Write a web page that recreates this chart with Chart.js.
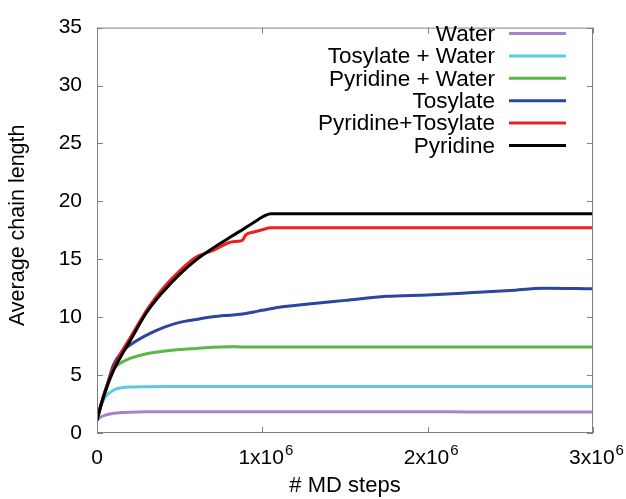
<!DOCTYPE html>
<html lang="en">
<head>
  <meta charset="UTF-8">
  <title>Average chain length vs MD steps</title>
  <script src="https://cdn.jsdelivr.net/npm/chart.js"></script>
  <style>
    html, body { margin: 0; padding: 0; background: #fff; }
    #wrap { width: 626px; height: 499px; position: relative; }
  </style>
</head>
<body>
<div id="wrap"><canvas id="chart"></canvas></div>

<script>
  // sampled MD steps shared by every run
  const steps = [0, 2e4, 5e4, 1e5, 1.5e5, 2e5, 3e5, 4e5, 5e5, 6e5, 7e5, 8e5, 8.5e5, 8.8e5, 9e5,
                 9.5e5, 1e6, 1.05e6, 1.1e6, 1.25e6, 1.5e6, 1.75e6, 2e6, 2.25e6, 2.5e6, 2.7e6, 3e6];

  const water        = [1.1, 1.35, 1.55, 1.7, 1.77, 1.8, 1.83, 1.84, 1.84, 1.84, 1.84, 1.84, 1.84, 1.84, 1.84,
                        1.84, 1.84, 1.84, 1.84, 1.84, 1.83, 1.83, 1.83, 1.82, 1.82, 1.82, 1.82];
  const tosWater     = [1.1, 2.2, 3.1, 3.7, 3.9, 3.97, 4.0, 4.01, 4.01, 4.01, 4.01, 4.01, 4.01, 4.01, 4.01,
                        4.01, 4.01, 4.01, 4.01, 4.01, 4.01, 4.01, 4.01, 4.01, 4.01, 4.01, 4.01];
  const pyrWater     = [1.1, 2.15, 3.5, 5.5, 6.1, 6.45, 6.85, 7.05, 7.2, 7.3, 7.4, 7.44, 7.44, 7.43, 7.43,
                        7.43, 7.43, 7.43, 7.43, 7.43, 7.43, 7.43, 7.43, 7.43, 7.43, 7.43, 7.43];
  const tosylate     = [1.1, 2.2, 3.6, 5.9, 7.0, 7.6, 8.45, 9.1, 9.55, 9.8, 10.03, 10.17, 10.23, 10.28, 10.32,
                        10.45, 10.6, 10.72, 10.85, 11.1, 11.45, 11.8, 11.92, 12.1, 12.3, 12.5, 12.45];
  const pyrTosylate  = [1.1, 2.3, 3.7, 5.6, 7.05, 8.2, 10.6, 12.5, 14.0, 15.19, 15.75, 16.45, 16.55, 16.65, 17.1,
                        17.35, 17.55, 17.72, 17.72, 17.72, 17.72, 17.72, 17.72, 17.72, 17.72, 17.72, 17.72];
  const pyridine     = [1.1, 2.2, 3.6, 5.4, 6.75, 7.95, 10.4, 12.2, 13.7, 14.95, 15.95, 16.85, 17.3, 17.55, 17.75,
                        18.2, 18.65, 18.93, 18.93, 18.93, 18.93, 18.93, 18.93, 18.93, 18.93, 18.93, 18.93];

  const seriesNames  = ['Water', 'Tosylate + Water', 'Pyridine + Water', 'Tosylate', 'Pyridine+Tosylate', 'Pyridine'];
  const seriesData   = [water, tosWater, pyrWater, tosylate, pyrTosylate, pyridine];
  const seriesColors = ['#a484c8', '#5ccbe0', '#5db646', '#2c45a2', '#ec2020', '#000000'];

  const xTicks      = [0, 1e6, 2e6, 3e6];
  const xTickLabels = [['0', ''], ['1x10', '6'], ['2x10', '6'], ['3x10', '6']];
  const yTitle      = 'Average chain length';

  const FONT = '"Liberation Sans", Arial, sans-serif';

  // gnuplot-like frame: border, inward ticks mirrored on all sides, x labels with exponents, legend
  const gnuplotFrame = {
    id: 'gnuplotFrame',
    afterDraw(chart) {
      const ctx = chart.ctx;
      const a = chart.chartArea;
      const xs = chart.scales.x, ys = chart.scales.y;
      const tick = 6;

      ctx.save();
      ctx.strokeStyle = '#808080';
      ctx.lineWidth = 1;
      ctx.strokeRect(a.left + 0.5, a.top + 0.5, a.right - a.left - 1, a.bottom - a.top - 1);

      ctx.beginPath();
      ys.ticks.forEach(t => {
        const y = Math.round(ys.getPixelForValue(t.value)) + 0.5;
        ctx.moveTo(a.left, y); ctx.lineTo(a.left + tick, y);
        ctx.moveTo(a.right, y); ctx.lineTo(a.right - tick, y);
      });
      xTicks.forEach(v => {
        const x = Math.round(xs.getPixelForValue(v)) + 0.5;
        ctx.moveTo(x, a.bottom); ctx.lineTo(x, a.bottom - tick);
        ctx.moveTo(x, a.top); ctx.lineTo(x, a.top + tick);
      });
      ctx.stroke();

      // x tick labels with superscript exponent
      ctx.fillStyle = '#000';
      ctx.textBaseline = 'alphabetic';
      ctx.textAlign = 'left';
      xTicks.forEach((v, i) => {
        const [base, sup] = xTickLabels[i];
        ctx.font = '21px ' + FONT;
        const wb = ctx.measureText(base).width;
        ctx.font = '15px ' + FONT;
        const ws = sup ? ctx.measureText(sup).width : 0;
        const x0 = xs.getPixelForValue(v) - (wb + ws) / 2 + (sup ? 3 : 0);
        ctx.font = '21px ' + FONT;
        ctx.fillText(base, x0, 464);
        if (sup) {
          ctx.font = '15px ' + FONT;
          ctx.fillText(sup, x0 + wb + 1, 455);
        }
      });

      // rotated y axis title, sitting slightly above the plot centre
      ctx.save();
      ctx.font = '21.5px ' + FONT;
      ctx.textAlign = 'center';
      ctx.textBaseline = 'middle';
      ctx.translate(18, (a.top + a.bottom) / 2 - 5);
      ctx.rotate(-Math.PI / 2);
      ctx.fillText(yTitle, 0, 0);
      ctx.restore();

      // legend: right-aligned names with line samples
      ctx.font = '22.5px ' + FONT;
      ctx.textAlign = 'right';
      ctx.textBaseline = 'middle';
      chart.data.datasets.forEach((ds, i) => {
        const y = 33.5 + i * 22.4;
        ctx.fillStyle = '#000';
        ctx.fillText(ds.label, 495, y + 1);
        ctx.strokeStyle = ds.borderColor;
        ctx.lineWidth = 3;
        ctx.beginPath();
        ctx.moveTo(509, y);
        ctx.lineTo(566, y);
        ctx.stroke();
      });
      ctx.restore();
    }
  };

  new Chart(document.getElementById('chart'), {
    type: 'line',
    data: {
      datasets: seriesNames.map((name, i) => ({
        label: name,
        data: steps.map((s, j) => ({ x: s, y: seriesData[i][j] })),
        borderColor: seriesColors[i],
        backgroundColor: seriesColors[i],
        borderWidth: 3,
        pointRadius: 0,
        cubicInterpolationMode: 'monotone',
        order: seriesNames.length - i
      }))
    },
    options: {
      responsive: true,
      maintainAspectRatio: false,
      animation: false,
      layout: { padding: { top: 19, right: 33, left: 0, bottom: 0 } },
      plugins: {
        legend: { display: false },
        tooltip: { enabled: false }
      },
      scales: {
        x: {
          type: 'linear',
          min: 0,
          max: 3e6,
          grid: { display: false, drawTicks: false },
          border: { display: false },
          ticks: { display: false },
          title: {
            display: true,
            text: '# MD steps',
            color: '#000',
            font: { family: FONT, size: 22 },
            padding: { top: 0, bottom: 0 }
          },
          afterFit(scale) { scale.height = 66; }
        },
        y: {
          min: 0,
          max: 35,
          grid: { display: false, drawTicks: false },
          border: { display: false },
          ticks: {
            stepSize: 5,
            color: '#000',
            padding: 15,
            font: { family: FONT, size: 21 }
          },
          afterFit(scale) { scale.width = 97; }
        }
      }
    },
    plugins: [gnuplotFrame]
  });
</script>
</body>
</html>
